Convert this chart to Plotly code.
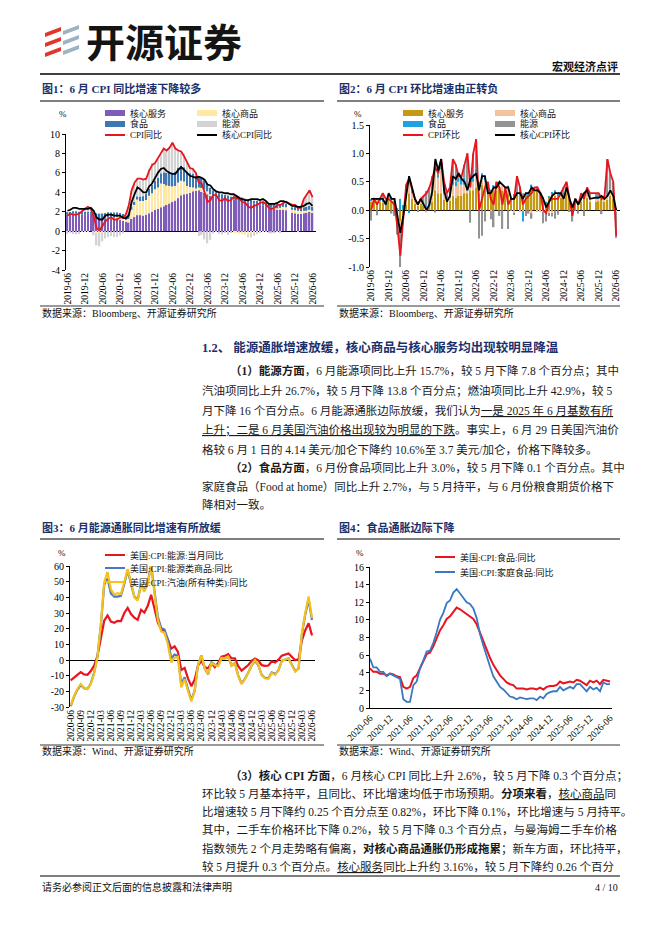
import pandas as pd
import plotly.graph_objects as go

W, H = 662, 936

MONTHS_A = list(pd.date_range("2019-06-01", "2026-06-01", freq="MS").strftime("%Y-%m"))
MONTHS_B = list(pd.date_range("2020-06-01", "2026-06-01", freq="MS").strftime("%Y-%m"))

# 图1: US CPI yoy and contributions (pct pt); 2025-10 not published
CPI_YOY = [1.6, 1.8, 1.7, 1.7, 1.8, 2.1, 2.3,
           2.5, 2.3, 1.5, 0.3, 0.1, 0.6, 1.0, 1.3, 1.4, 1.2, 1.2, 1.4,
           1.4, 1.7, 2.6, 4.2, 5.0, 5.4, 5.4, 5.3, 5.4, 6.2, 6.8, 7.0,
           7.5, 7.9, 8.5, 8.3, 8.6, 9.1, 8.5, 8.3, 8.2, 7.7, 7.1, 6.5,
           6.4, 6.0, 5.0, 4.9, 4.0, 3.0, 3.2, 3.7, 3.7, 3.2, 3.1, 3.4,
           3.1, 3.2, 3.5, 3.4, 3.3, 3.0, 2.9, 2.5, 2.4, 2.6, 2.7, 2.9,
           3.0, 2.8, 2.4, 2.3, 2.4, 2.7, 2.7, 2.9, 3.0, None, 2.7, 2.7,
           2.4, 2.4, 3.3, 3.8, 4.2, 3.5]
CORE_YOY = [2.1, 2.2, 2.4, 2.4, 2.3, 2.3, 2.3,
            2.3, 2.4, 2.1, 1.4, 1.2, 1.2, 1.6, 1.7, 1.7, 1.6, 1.6, 1.6,
            1.4, 1.3, 1.6, 3.0, 3.8, 4.5, 4.3, 4.0, 4.0, 4.6, 4.9, 5.5,
            6.0, 6.4, 6.5, 6.2, 6.0, 5.9, 5.9, 6.3, 6.6, 6.3, 6.0, 5.7,
            5.6, 5.5, 5.6, 5.5, 5.3, 4.8, 4.7, 4.3, 4.1, 4.0, 4.0, 3.9,
            3.9, 3.8, 3.8, 3.6, 3.4, 3.3, 3.2, 3.2, 3.3, 3.3, 3.3, 3.2,
            3.3, 3.1, 2.8, 2.8, 2.8, 2.9, 3.1, 3.1, 3.0, None, 2.6, 2.6,
            2.5, 2.5, 2.6, 2.8, 2.9, 2.6]
SVC_YOY_C = [1.70, 1.72, 1.75, 1.75, 1.72, 1.72, 1.75,
             1.78, 1.80, 1.65, 1.35, 1.25, 1.20, 1.30, 1.30, 1.25, 1.20, 1.20, 1.15,
             1.05, 0.95, 0.90, 1.25, 1.45, 1.65, 1.65, 1.60, 1.70, 1.85, 2.00, 2.20,
             2.30, 2.45, 2.55, 2.70, 2.85, 3.00, 3.15, 3.40, 3.70, 3.80, 3.85, 3.95,
             4.10, 4.20, 4.20, 4.05, 3.95, 3.80, 3.70, 3.60, 3.50, 3.45, 3.40, 3.35,
             3.30, 3.25, 3.25, 3.20, 3.10, 3.05, 3.00, 2.95, 2.90, 2.85, 2.80, 2.75,
             2.65, 2.60, 2.45, 2.40, 2.35, 2.20, 2.20, 2.20, 2.15, None, 1.90, 1.85,
             1.80, 1.80, 1.85, 1.90, 2.00, 1.95]
GOODS_YOY_C = [-0.05, -0.02, 0.05, 0.05, 0.00, 0.00, -0.02,
               -0.02, 0.00, -0.02, -0.20, -0.20, -0.15, 0.00, 0.08, 0.15, 0.18, 0.22, 0.20,
               0.20, 0.22, 0.35, 0.95, 1.25, 1.60, 1.45, 1.50, 1.50, 1.80, 1.90, 2.10,
               2.20, 2.45, 2.30, 2.00, 1.80, 1.60, 1.50, 1.60, 1.50, 1.30, 0.80, 0.60,
               0.40, 0.20, 0.30, 0.40, 0.35, 0.30, 0.10, 0.00, 0.00, 0.00, 0.00, -0.05,
               -0.10, -0.08, -0.12, -0.20, -0.30, -0.35, -0.40, -0.35, -0.20, -0.15, -0.10, -0.10,
               -0.05, -0.02, 0.00, 0.02, 0.05, 0.15, 0.20, 0.30, 0.30, None, 0.30, 0.30,
               0.30, 0.25, 0.25, 0.20, 0.20, 0.15]
FOOD_YOY_C = [0.26, 0.25, 0.25, 0.25, 0.28, 0.28, 0.25,
              0.25, 0.25, 0.26, 0.48, 0.55, 0.62, 0.56, 0.56, 0.53, 0.53, 0.50, 0.53,
              0.52, 0.49, 0.48, 0.33, 0.30, 0.33, 0.46, 0.50, 0.62, 0.72, 0.84, 0.86,
              0.96, 1.07, 1.20, 1.28, 1.38, 1.42, 1.49, 1.55, 1.53, 1.49, 1.44, 1.42,
              1.38, 1.30, 1.16, 1.05, 0.92, 0.78, 0.67, 0.59, 0.51, 0.45, 0.39, 0.37,
              0.36, 0.30, 0.30, 0.30, 0.29, 0.30, 0.30, 0.29, 0.32, 0.29, 0.33, 0.34,
              0.34, 0.36, 0.41, 0.38, 0.39, 0.40, 0.39, 0.43, 0.42, None, 0.26, 0.42,
              0.40, 0.42, 0.37, 0.42, 0.42, 0.41]
ENERGY_YOY_C = [-0.25, -0.15, -0.30, -0.35, -0.30, -0.05, 0.25,
                0.45, 0.20, -0.40, -1.25, -1.35, -0.90, -0.75, -0.60, -0.50, -0.60, -0.60, -0.45,
                -0.25, 0.15, 0.85, 1.60, 1.85, 1.60, 1.60, 1.65, 1.65, 2.00, 2.30, 2.00,
                1.90, 1.80, 2.35, 2.25, 2.60, 3.10, 2.50, 1.80, 1.50, 1.40, 1.00, 0.55,
                0.65, 0.40, -0.50, -0.40, -0.85, -1.25, -0.90, -0.25, -0.04, -0.30, -0.35, -0.15,
                -0.30, -0.13, 0.14, 0.17, 0.24, 0.07, 0.07, -0.26, -0.45, -0.32, -0.20, -0.03,
                0.06, -0.01, -0.21, -0.24, -0.22, -0.05, -0.10, 0.01, 0.18, None, 0.27, 0.15,
                -0.02, 0.05, 0.80, 1.20, 1.55, 1.05]

# 图2: US CPI mom and contributions
CPI_MOM = [0.0, 0.2, 0.1, 0.2, 0.3, 0.2, 0.2,
           0.15, 0.1, -0.3, -0.8, -0.15, 0.45, 0.55, 0.35, 0.2, 0.1, 0.2, 0.25,
           0.3, 0.4, 0.6, 0.75, 0.65, 0.9, 0.5, 0.3, 0.4, 0.9, 0.8, 0.6,
           0.6, 0.8, 1.0, 0.4, 1.0, 1.25, 0.0, 0.2, 0.4, 0.5, 0.2, 0.1,
           0.5, 0.4, 0.1, 0.4, 0.1, 0.2, 0.2, 0.6, 0.4, 0.1, 0.2, 0.25,
           0.3, 0.4, 0.4, 0.3, 0.0, -0.05, 0.15, 0.2, 0.2, 0.2, 0.3, 0.4,
           0.5, 0.2, -0.1, 0.2, 0.1, 0.3, 0.2, 0.4, 0.3, None, 0.3, 0.3,
           0.2, 0.25, 0.9, 0.65, 0.5, -0.45]
CORE_MOM = [0.2, 0.2, 0.2, 0.2, 0.2, 0.1, 0.3,
            0.2, 0.2, -0.1, -0.4, -0.1, 0.25, 0.6, 0.4, 0.2, 0.1, 0.2, 0.1,
            0.0, 0.1, 0.35, 0.9, 0.7, 0.9, 0.35, 0.15, 0.25, 0.6, 0.55, 0.65,
            0.55, 0.5, 0.35, 0.55, 0.6, 0.65, 0.35, 0.6, 0.6, 0.3, 0.3, 0.4,
            0.4, 0.5, 0.45, 0.4, 0.4, 0.2, 0.2, 0.3, 0.3, 0.2, 0.3, 0.3,
            0.4, 0.35, 0.35, 0.3, 0.2, 0.05, 0.15, 0.25, 0.3, 0.3, 0.3, 0.2,
            0.4, 0.2, 0.05, 0.2, 0.1, 0.2, 0.3, 0.35, 0.2, None, 0.22, 0.22,
            0.25, 0.2, 0.25, 0.35, 0.25, 0.0]
SVC_MOM_C = [0.15, 0.15, 0.15, 0.15, 0.14, 0.10, 0.18,
             0.16, 0.17, -0.02, -0.20, -0.05, 0.10, 0.30, 0.20, 0.12, 0.08, 0.12, 0.08,
             0.04, 0.08, 0.15, 0.35, 0.30, 0.30, 0.18, 0.15, 0.17, 0.25, 0.22, 0.25,
             0.25, 0.30, 0.30, 0.35, 0.35, 0.40, 0.30, 0.45, 0.40, 0.30, 0.30, 0.35,
             0.35, 0.40, 0.35, 0.30, 0.30, 0.20, 0.25, 0.25, 0.30, 0.22, 0.28, 0.28,
             0.40, 0.33, 0.35, 0.30, 0.22, 0.12, 0.22, 0.30, 0.25, 0.25, 0.22, 0.20,
             0.30, 0.20, 0.05, 0.15, 0.12, 0.15, 0.25, 0.22, 0.15, None, 0.15, 0.16,
             0.20, 0.15, 0.18, 0.25, 0.20, 0.02]
GOODS_MOM_C = [0.02, 0.02, 0.03, 0.02, 0.02, 0.00, 0.04,
               0.03, 0.02, -0.06, -0.15, -0.04, 0.10, 0.20, 0.12, 0.06, 0.02, 0.04, 0.02,
               -0.04, 0.00, 0.10, 0.38, 0.27, 0.42, 0.10, 0.00, 0.05, 0.20, 0.20, 0.25,
               0.20, 0.15, 0.05, 0.15, 0.15, 0.20, 0.05, 0.10, 0.12, 0.00, -0.02, 0.05,
               0.05, 0.05, 0.08, 0.10, 0.10, 0.00, -0.05, 0.00, -0.02, -0.02, 0.00, 0.00,
               -0.05, 0.00, -0.02, -0.02, -0.03, -0.05, -0.05, -0.05, 0.05, 0.00, 0.05, 0.02,
               0.05, 0.02, 0.00, 0.02, 0.00, 0.05, 0.05, 0.10, 0.05, None, 0.05, 0.04,
               0.04, 0.04, 0.05, 0.08, 0.05, -0.03]
FOOD_MOM_C = [0.01, 0.02, 0.01, 0.01, 0.02, 0.02, 0.01,
              0.03, 0.02, 0.04, 0.20, 0.09, 0.05, -0.05, 0.01, 0.01, 0.03, 0.02, 0.04,
              0.03, 0.03, 0.01, 0.06, 0.06, 0.10, 0.10, 0.05, 0.10, 0.12, 0.08, 0.07,
              0.10, 0.12, 0.13, 0.12, 0.15, 0.14, 0.15, 0.10, 0.08, 0.08, 0.06, 0.04,
              0.07, 0.05, 0.00, 0.00, 0.03, 0.01, 0.03, 0.03, 0.02, -0.18, 0.02, 0.03,
              0.05, 0.00, 0.01, 0.01, 0.01, 0.03, 0.03, 0.01, 0.05, 0.03, 0.02, 0.04,
              0.03, 0.00, 0.05, -0.01, 0.04, 0.04, 0.00, 0.05, 0.02, None, 0.03, 0.03,
              0.03, 0.03, 0.04, 0.03, 0.03, 0.02]
ENERGY_MOM_C = [-0.18, 0.03, -0.09, 0.00, 0.10, 0.06, 0.02,
                -0.06, -0.10, -0.35, -0.65, -0.15, 0.20, 0.10, 0.02, 0.01, -0.03, 0.02, 0.11,
                0.27, 0.29, 0.34, -0.04, 0.02, 0.08, 0.12, 0.10, 0.08, 0.33, 0.30, 0.03,
                0.05, 0.23, 0.52, -0.22, 0.35, 0.51, -0.50, -0.45, -0.20, 0.12, -0.14, -0.30,
                0.03, -0.10, -0.33, 0.00, -0.33, -0.01, -0.03, 0.32, 0.10, 0.08, -0.10, -0.06,
                -0.10, 0.07, 0.06, 0.01, -0.20, -0.15, -0.05, -0.06, -0.15, -0.08, 0.01, 0.14,
                0.12, -0.02, -0.20, 0.04, -0.06, 0.06, -0.10, 0.03, 0.08, None, 0.07, 0.07,
                -0.07, 0.03, 0.63, 0.29, 0.22, -0.46]

# 图3: energy yoy (%), 2020-06 .. 2026-06
ENERGY_YOY = [-13.0, -11.2, -9.0, -7.7, -9.2, -9.4, -7.0,
              -3.6, 2.4, 13.2, 25.1, 28.5, 24.5, 23.8, 25.0, 24.8, 30.0, 33.3, 29.3,
              27.0, 25.6, 32.0, 30.3, 34.6, 41.6, 32.9, 23.8, 19.8, 17.6, 13.1, 7.3,
              8.7, 5.2, -6.4, -5.1, -11.7, -16.7, -12.5, -3.6, -0.5, -4.5, -5.4, -2.0,
              -4.6, -1.9, 2.1, 2.6, 3.7, 1.0, 1.1, -4.0, -6.8, -4.9, -3.2, -0.5,
              1.0, -0.2, -3.3, -3.7, -3.5, -0.8, -1.6, 0.2, 2.8, None, 4.2, 2.3,
              -0.1, 0.5, 12.5, 19.0, 23.5, 15.7]
ENERGY_GOODS_YOY = [-29.5, -23.5, -19.0, -16.0, -18.0, -18.5, -15.0,
                    -8.0, 2.5, 22.0, 48.0, 52.0, 42.5, 40.5, 40.5, 41.0, 48.5, 57.5, 48.5,
                    40.5, 38.5, 48.5, 44.5, 49.5, 61.0, 45.5, 27.5, 20.5, 19.5, 13.0, 1.0,
                    3.5, 2.5, -15.5, -11.0, -18.5, -25.5, -19.5, -3.0, 3.0, -5.5, -9.0, -1.5,
                    -3.0, -3.5, 1.0, 1.0, 2.0, -3.5, -2.0, -10.0, -15.0, -12.0, -8.0, -3.5,
                    -0.5, -3.5, -9.5, -11.5, -11.5, -8.0, -9.0, -6.5, -0.5, None, 1.0, -3.0,
                    -7.0, -5.5, 16.5, 29.0, 38.5, 25.5]
GASOLINE_YOY = [-29.0, -23.0, -18.5, -15.3, -17.7, -18.5, -15.4,
                -8.6, 2.0, 22.5, 49.6, 56.2, 45.1, 41.8, 42.7, 42.1, 49.6, 58.1, 49.6,
                40.0, 38.0, 48.0, 43.6, 48.7, 59.9, 44.0, 25.6, 18.2, 17.5, 10.1, -1.5,
                1.5, 2.0, -17.4, -12.2, -19.7, -26.5, -19.9, -3.3, 3.0, -5.3, -8.9, -1.9,
                -3.3, -3.9, 1.3, 1.2, 2.2, -3.8, -2.2, -10.3, -15.3, -12.2, -8.1, -3.4,
                0.0, -3.1, -9.8, -11.8, -12.0, -8.3, -9.5, -6.6, -0.5, None, 0.9, -3.4,
                -7.5, -5.5, 17.5, 30.0, 40.5, 26.7]

# 图4: food yoy (%)
FOOD_YOY = [4.5, 4.1, 4.1, 3.9, 3.9, 3.7, 3.9,
            3.8, 3.6, 3.5, 2.4, 2.2, 2.4, 3.4, 3.7, 4.6, 5.3, 6.1, 6.3,
            7.0, 7.9, 8.8, 9.4, 10.1, 10.4, 10.9, 11.4, 11.2, 10.9, 10.6, 10.4,
            10.1, 9.5, 8.5, 7.7, 6.7, 5.7, 4.9, 4.3, 3.7, 3.3, 2.9, 2.7,
            2.6, 2.2, 2.2, 2.2, 2.1, 2.2, 2.2, 2.1, 2.3, 2.1, 2.4, 2.5,
            2.5, 2.6, 3.0, 2.8, 2.9, 3.0, 2.9, 3.2, 3.1, None, 2.6, 3.1,
            2.9, 3.1, 2.7, 3.2, 3.1, 3.0]
FOOD_HOME_YOY = [5.6, 4.6, 4.6, 4.1, 4.1, 3.6, 3.9,
                 3.7, 3.5, 3.3, 1.0, 0.7, 0.7, 2.6, 3.0, 4.5, 5.4, 6.4, 6.5,
                 7.4, 8.6, 10.0, 10.8, 11.9, 12.2, 13.1, 13.5, 13.0, 12.4, 12.0, 11.8,
                 11.3, 10.2, 8.4, 7.1, 5.8, 4.7, 3.6, 3.0, 2.4, 2.1, 1.7, 1.3,
                 1.2, 1.0, 1.2, 1.1, 1.0, 1.1, 1.1, 0.9, 1.3, 1.1, 1.6, 1.8,
                 1.9, 1.9, 2.4, 2.0, 2.2, 2.4, 2.2, 2.7, 2.7, None, 1.9, 2.4,
                 2.1, 2.3, 1.9, 2.9, 2.7, 2.7]

SERIF = "Liberation Serif, Noto Sans CJK SC"
CJK = "Noto Sans CJK SC"
NAVY = "#1B2F6B"
RED = "#E8141E"


def px(x):
    return x / W


def py(y):
    return 1 - y / H


fig = go.Figure()
shapes, notes = [], []


def text(x, y, s, size=11, color="#111", family=SERIF, anchor="left"):
    notes.append(dict(x=px(x), y=py(y), xref="paper", yref="paper", text=s, showarrow=False,
                      xanchor=anchor, yanchor="middle", font=dict(family=family, size=size, color=color)))


def hline(x0, x1, y, width=1.0, color="black"):
    shapes.append(dict(type="line", xref="paper", yref="paper", x0=px(x0), x1=px(x1),
                       y0=py(y), y1=py(y), line=dict(color=color, width=width)))


def key(x, y, label, color, kind="bar", size=9):
    if kind == "bar":
        shapes.append(dict(type="rect", xref="paper", yref="paper", x0=px(x), x1=px(x + 20),
                           y0=py(y + 3), y1=py(y - 3), line_width=0, fillcolor=color))
    else:
        shapes.append(dict(type="line", xref="paper", yref="paper", x0=px(x), x1=px(x + 20),
                           y0=py(y), y1=py(y), line=dict(color=color, width=2)))
    text(x + 23, y, label, size=size)


def bars(xs, ys, color, ax):
    fig.add_trace(go.Bar(x=xs, y=ys, marker=dict(color=color, line_width=0),
                         xaxis="x" + ax, yaxis="y" + ax, showlegend=False))


def line(xs, ys, color, ax, width=1.8):
    fig.add_trace(go.Scatter(x=xs, y=ys, mode="lines", connectgaps=True,
                             line=dict(color=color, width=width),
                             xaxis="x" + ax, yaxis="y" + ax, showlegend=False))


# chart 1
bars(MONTHS_A, SVC_YOY_C, "#7E5CB8", "")
bars(MONTHS_A, GOODS_YOY_C, "#FFE8A3", "")
bars(MONTHS_A, FOOD_YOY_C, "#3E78B2", "")
bars(MONTHS_A, ENERGY_YOY_C, "#D3D3D3", "")
line(MONTHS_A, CPI_YOY, RED, "")
line(MONTHS_A, CORE_YOY, "black", "")

# chart 2
bars(MONTHS_A, SVC_MOM_C, "#C49A14", "2")
bars(MONTHS_A, GOODS_MOM_C, "#F6C29A", "2")
bars(MONTHS_A, FOOD_MOM_C, "#1FA3E0", "2")
bars(MONTHS_A, ENERGY_MOM_C, "#939393", "2")
line(MONTHS_A, CPI_MOM, RED, "2")
line(MONTHS_A, CORE_MOM, "black", "2")

# chart 3
line(MONTHS_B, ENERGY_YOY, RED, "3", 2.2)
line(MONTHS_B, ENERGY_GOODS_YOY, "#4A78C8", "3", 2.2)
line(MONTHS_B, GASOLINE_YOY, "#F5C11A", "3", 2.2)

# chart 4
line(MONTHS_B, FOOD_YOY, RED, "4", 2.0)
line(MONTHS_B, FOOD_HOME_YOY, "#3A78C2", "4", 1.8)

tick_font = dict(family="Liberation Serif", size=10, color="black")


def xaxis(x0, x1, rng, vals, angle, anchor, bottom_line=False):
    return dict(domain=[px(x0), px(x1)], type="category", range=rng, tickvals=vals,
                tickangle=angle, tickfont=dict(family="Liberation Serif", size=9.5, color="black"),
                showgrid=False, zeroline=False, showline=bottom_line, linecolor="black",
                linewidth=1, ticks="", anchor=anchor, fixedrange=True, automargin=False)


def yaxis(y_top, y_bot, rng, vals, labels, anchor):
    return dict(domain=[py(y_bot), py(y_top)], range=rng, tickvals=vals, ticktext=labels,
                showline=True, linecolor="black", linewidth=1, ticks="outside", ticklen=3,
                tickcolor="black", tickfont=tick_font, showgrid=False, zeroline=True,
                zerolinecolor="black", zerolinewidth=1, anchor=anchor, fixedrange=True,
                automargin=False)


y1v = [-4, -2, 0, 2, 4, 6, 8, 10]
y2v = [-1.0, -0.5, 0.0, 0.5, 1.0, 1.5]
y3v = [-30, -20, -10, 0, 10, 20, 30, 40, 50, 60]
y4v = [0, 2, 4, 6, 8, 10, 12, 14, 16]

fig.update_layout(
    xaxis=xaxis(66, 316, [-0.5, 85.2], MONTHS_A[::6], -90, "y"),
    yaxis=yaxis(134, 270, [-4, 10], y1v, [str(v) for v in y1v], "x"),
    xaxis2=xaxis(370, 620, [-0.4, 85.3], MONTHS_A[::6], -90, "y2"),
    yaxis2=yaxis(125, 267, [-1.0, 1.5], y2v, ["%.1f" % v for v in y2v], "x2"),
    xaxis3=xaxis(70, 315, [-0.2, 72.9], MONTHS_B[::3], -90, "y3"),
    yaxis3=yaxis(566, 707, [-30, 60], y3v, [str(v) for v in y3v], "x3"),
    xaxis4=xaxis(370, 612, [0, 72.6], MONTHS_B[::6], -45, "y4", bottom_line=True),
    yaxis4=yaxis(567, 708, [0, 16], y4v, [str(v) for v in y4v], "x4"),
)

# header
for i in range(3):
    t = 27 + i * 10
    shapes.append(dict(type="path", xref="paper", yref="paper", fillcolor="#E2362C", line_width=0,
                       path="M %f %f L %f %f L %f %f L %f %f Z" % (
                           px(45), py(t + 6), px(61), py(t), px(61), py(t + 4), px(45), py(t + 10))))
    shapes.append(dict(type="path", xref="paper", yref="paper", fillcolor="#9BB3C3", line_width=0,
                       path="M %f %f L %f %f L %f %f L %f %f Z" % (
                           px(63), py(t + 4), px(79), py(t - 2), px(79), py(t + 2), px(63), py(t + 8))))
text(84, 40, "<b>开源证券</b>", size=39, color="#141414", family=CJK)
text(620, 66, "<b>宏观经济点评</b>", size=11, family=CJK, anchor="right")
hline(40, 620, 74, 1.3)

# figure titles and rules
text(40, 88, "<b>图1：6 月 CPI 同比增速下降较多</b>", size=11, color=NAVY)
text(337, 88, "<b>图2：6 月 CPI 环比增速由正转负</b>", size=11, color=NAVY)
hline(40, 324, 101)
hline(337, 620, 101)
text(40, 527, "<b>图3：6 月能源通胀同比增速有所放缓</b>", size=11, color=NAVY)
text(337, 527, "<b>图4：食品通胀边际下降</b>", size=11, color=NAVY)
hline(40, 324, 539)
hline(337, 620, 539)

# legends
text(57, 114, "%", size=9)
key(105, 113, "核心服务", "#7E5CB8")
key(197, 113, "核心商品", "#FFE8A3")
key(105, 124, "食品", "#3E78B2")
key(197, 124, "能源", "#D3D3D3")
key(105, 135, "CPI同比", RED, "line")
key(197, 135, "核心CPI同比", "black", "line")

text(352, 114, "%", size=9)
key(403, 113, "核心服务", "#C49A14")
key(495, 113, "核心商品", "#F6C29A")
key(403, 124, "食品", "#1FA3E0")
key(495, 124, "能源", "#939393")
key(403, 135, "CPI环比", RED, "line")
key(495, 135, "核心CPI环比", "black", "line")

text(56, 553, "%", size=9)
key(105, 555, "美国:CPI:能源:当月同比", RED, "line")
key(105, 568, "美国:CPI:能源类商品:同比", "#4A78C8", "line")
key(105, 582, "美国:CPI:汽油(所有种类):同比", "#F5C11A", "line")

text(354, 553, "%", size=9)
key(435, 557, "美国:CPI:食品:同比", RED, "line")
key(435, 572, "美国:CPI:家庭食品:同比", "#3A78C2", "line")

# sources
hline(40, 324, 306, 0.8)
hline(337, 620, 306, 0.8)
text(40, 313, "数据来源：Bloomberg、开源证券研究所", size=10)
text(337, 313, "数据来源：Bloomberg、开源证券研究所", size=10)
hline(40, 324, 745, 0.8)
hline(337, 620, 745, 0.8)
text(40, 751, "数据来源：Wind、开源证券研究所", size=10)
text(337, 751, "数据来源：Wind、开源证券研究所", size=10)

# body text
text(200, 347, "<b>1.2、 能源通胀增速放缓，核心商品与核心服务均出现较明显降温</b>", size=12.5, color=NAVY)
body = [
    (228, 371, "<b>（1）能源方面</b>，6 月能源项同比上升 15.7%，较 5 月下降 7.8 个百分点；其中"),
    (200, 390, "汽油项同比上升 26.7%，较 5 月下降 13.8 个百分点；燃油项同比上升 42.9%，较 5"),
    (200, 410, "月下降 16 个百分点。6 月能源通胀边际放缓，我们认为<u>一是 2025 年 6 月基数有所</u>"),
    (200, 430, "<u>上升；二是 6 月美国汽油价格出现较为明显的下跌</u>。事实上，6 月 29 日美国汽油价"),
    (200, 449, "格较 6 月 1 日的 4.14 美元/加仑下降约 10.6%至 3.7 美元/加仑，价格下降较多。"),
    (228, 467, "<b>（2）食品方面</b>，6 月份食品项同比上升 3.0%，较 5 月下降 0.1 个百分点。其中"),
    (200, 486, "家庭食品（Food at home）同比上升 2.7%，与 5 月持平，与 6 月份粮食期货价格下"),
    (200, 504, "降相对一致。"),
    (228, 775, "<b>（3）核心 CPI 方面</b>，6 月核心 CPI 同比上升 2.6%，较 5 月下降 0.3 个百分点；"),
    (200, 793, "环比较 5 月基本持平，且同比、环比增速均低于市场预期。<b>分项来看</b>，<u>核心商品</u>同"),
    (200, 811, "比增速较 5 月下降约 0.25 个百分点至 0.82%，环比下降 0.1%，环比增速与 5 月持平。"),
    (200, 829, "其中，二手车价格环比下降 0.2%，较 5 月下降 0.3 个百分点，与曼海姆二手车价格"),
    (200, 848, "指数领先 2 个月走势略有偏离，<b>对核心商品通胀仍形成拖累</b>；新车方面，环比持平，"),
    (200, 866, "较 5 月提升 0.3 个百分点。<u>核心服务</u>同比上升约 3.16%，较 5 月下降约 0.26 个百分"),
]
for x, y, s in body:
    text(x, y, s, size=11.5, color="#1a1a1a")

# footer
hline(40, 620, 876, 1.0)
text(40, 887, "请务必参阅正文后面的信息披露和法律声明", size=10)
text(620, 887, "4 / 10", size=10, anchor="right")

fig.update_layout(
    width=W, height=H, margin=dict(l=0, r=0, t=0, b=0, pad=0, autoexpand=False),
    paper_bgcolor="white", plot_bgcolor="white",
    barmode="relative", bargap=0.5,
    shapes=shapes, annotations=notes,
    font=dict(family=SERIF, color="black"),
)

# page body has a default 8px margin; drop it so the figure sits at the window origin
fig.write_html("out.html", config={"displayModeBar": False},
               post_script="document.body.style.margin='0';")
